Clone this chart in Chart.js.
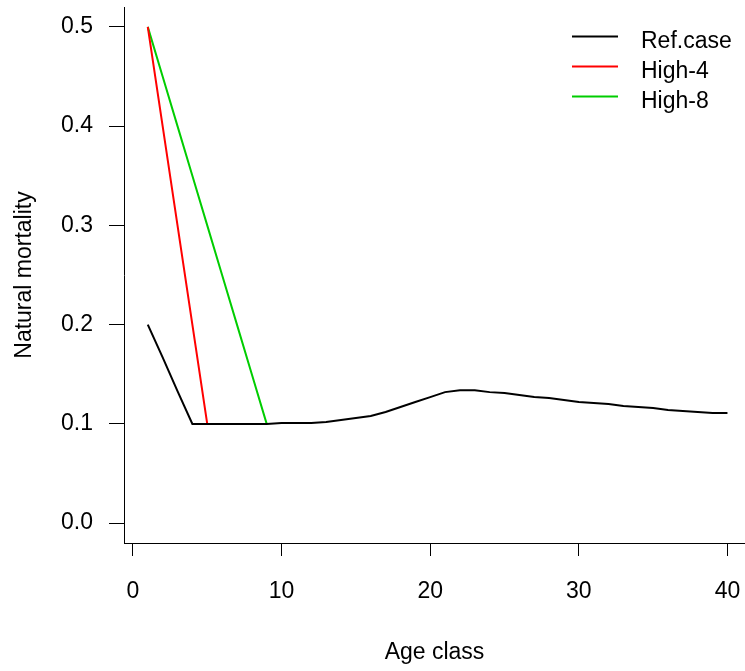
<!DOCTYPE html>
<html>
<head>
<meta charset="utf-8">
<title>Natural mortality by age class</title>
<script src="https://cdn.jsdelivr.net/npm/chart.js@4"></script>
<style>
  html, body { margin: 0; padding: 0; background: #ffffff; }
  canvas { display: block; }
</style>
</head>
<body>
<canvas id="chart" width="745" height="671"></canvas>
<script>
// values
const ages = [1, 2, 3, 4, 5, 6, 7, 8, 9, 10,
              11, 12, 13, 14, 15, 16, 17, 18, 19, 20,
              21, 22, 23, 24, 25, 26, 27, 28, 29, 30,
              31, 32, 33, 34, 35, 36, 37, 38, 39, 40];
const refCase = [0.200, 0.167, 0.133, 0.100, 0.100, 0.100, 0.100, 0.100, 0.100, 0.101,
                 0.101, 0.101, 0.102, 0.104, 0.106, 0.108, 0.112, 0.117, 0.122, 0.127,
                 0.132, 0.134, 0.134, 0.132, 0.131, 0.129, 0.127, 0.126, 0.124, 0.122,
                 0.121, 0.120, 0.118, 0.117, 0.116, 0.114, 0.113, 0.112, 0.111, 0.111];
// the high cases join the reference line (and are hidden by it) after this point
const high4 = [0.500, 0.400, 0.300, 0.200, 0.100];
const high8 = [0.500, 0.450, 0.400, 0.350, 0.300, 0.250, 0.200, 0.150, 0.100];
const seriesNames = ['Ref.case', 'High-4', 'High-8'];
const xTicks = [0, 10, 20, 30, 40];
const yTicks = [0.0, 0.1, 0.2, 0.3, 0.4, 0.5];

const FONT = '"Liberation Sans", Arial, sans-serif';
Chart.defaults.font.family = FONT;
Chart.defaults.font.size = 23;
Chart.defaults.color = '#000000';

function toPoints(values) {
    return values.map((v, i) => ({ x: ages[i], y: v }));
}

// R-style legend in the top right corner of the plot
const cornerLegend = {
    id: 'cornerLegend',
    afterDraw(chart) {
        const ctx = chart.ctx;
        ctx.save();
        ctx.font = '23px ' + FONT;
        ctx.textBaseline = 'alphabetic';
        ctx.textAlign = 'left';
        chart.data.datasets.forEach((ds, i) => {
            const y = 36.5 + i * 30;
            ctx.strokeStyle = ds.borderColor;
            ctx.lineWidth = 2;
            ctx.beginPath();
            ctx.moveTo(572, y);
            ctx.lineTo(618, y);
            ctx.stroke();
            ctx.fillStyle = '#000000';
            ctx.fillText(ds.label, 641, 48 + i * 30);
        });
        ctx.restore();
    }
};

const ctx = document.getElementById('chart').getContext('2d');
new Chart(ctx, {
    type: 'line',
    data: {
        datasets: [
            { label: seriesNames[0], data: toPoints(refCase), borderColor: '#000000' },
            { label: seriesNames[1], data: toPoints(high4), borderColor: '#ff0000' },
            { label: seriesNames[2], data: toPoints(high8), borderColor: '#00cd00' }
        ]
    },
    options: {
        responsive: false,
        animation: false,
        devicePixelRatio: 1,
        layout: { padding: { top: 7, right: 0, left: 0, bottom: 0 } },
        elements: {
            line: { borderWidth: 2, tension: 0, fill: false },
            point: { radius: 0, hoverRadius: 0 }
        },
        plugins: {
            legend: { display: false },
            tooltip: { enabled: false }
        },
        scales: {
            x: {
                type: 'linear',
                min: -0.6,
                max: 41.18,
                afterBuildTicks: (scale) => { scale.ticks = xTicks.map(v => ({ value: v })); },
                afterFit: (scale) => {
                    scale.height = 128;
                    scale.paddingLeft = 0;
                    scale.paddingRight = 0;
                },
                ticks: { padding: 22, maxRotation: 0, callback: (v) => String(v) },
                grid: { display: true, drawOnChartArea: false, tickLength: 13, color: '#000000' },
                border: { display: true, color: '#000000', width: 1 },
                title: { display: true, text: 'Age class', padding: { top: 0, bottom: 5 } }
            },
            y: {
                type: 'linear',
                min: -0.02,
                max: 0.52,
                afterBuildTicks: (scale) => { scale.ticks = yTicks.map(v => ({ value: v })); },
                afterFit: (scale) => {
                    scale.width = 124;
                    scale.paddingTop = 0;
                    scale.paddingBottom = 0;
                },
                ticks: { padding: 16, callback: (v) => v.toFixed(1) },
                grid: { display: true, drawOnChartArea: false, tickLength: 15, color: '#000000' },
                border: { display: true, color: '#000000', width: 1 },
                title: { display: true, text: 'Natural mortality', padding: { top: 11, bottom: 0 } }
            }
        }
    },
    plugins: [cornerLegend]
});
</script>
</body>
</html>
